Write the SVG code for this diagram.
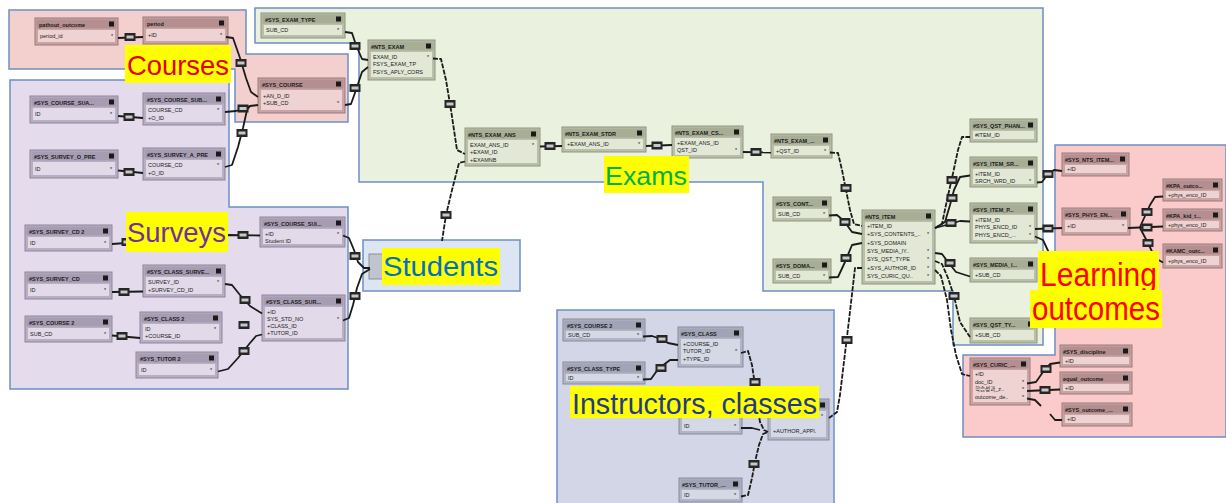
<svg xmlns="http://www.w3.org/2000/svg" xmlns:xlink="http://www.w3.org/1999/xlink" width="1226" height="503" viewBox="0 0 1226 503">
<style>
.rg{stroke:#6f8fc4;stroke-width:1.5}
.n .o{stroke-width:1}
.gr .o{fill:#b9bfa9;stroke:#8f9680}.gr .t{fill:#a7ae95}.gr .b{fill:#e3e8d6}
.pk .o{fill:#c8a4a4;stroke:#9b7a7a}.pk .t{fill:#b58f8f}.pk .b{fill:#efd3d3}
.pu .o{fill:#b8afc4;stroke:#8d859a}.pu .t{fill:#a69db3}.pu .b{fill:#e2dae9}
.bl .o{fill:#b2b5c6;stroke:#878a9c}.bl .t{fill:#a1a4b6}.bl .b{fill:#d5d8e5}
.k{fill:#1a1a1a}
.tt{font-family:'Liberation Sans',sans-serif;font-size:5.5px;font-weight:bold;fill:#1a1a1a}
.r{font-family:'Liberation Sans','Noto Sans CJK KR',sans-serif;font-size:5.5px;fill:#1a1a1a}
.c path{fill:none;stroke:#1b1b1b;stroke-width:1.8;stroke-linejoin:round}
.c path.d{stroke-dasharray:5 1.3}
.hl{fill:#ffff00}
.lb{font-family:'Liberation Sans',sans-serif}
</style>
<defs>
<g id="ri"><rect x="-5.5" y="-4" width="11" height="8" fill="#262626"/><rect x="-3.5" y="-1.5" width="7" height="3" fill="#c8c8c8"/></g>
</defs>
<g id="regions">
<path id="reg-exams" class="rg" fill="#ebf1df" d="M255,8 H1043 V345 H953 V291 H763 V182 H359 V43 H255 Z"/>
<path id="reg-courses" class="rg" fill="#f3d0ce" d="M9,10 H246 V54 H348 V122 H235 V69 H9 Z"/>
<path id="reg-surveys" class="rg" fill="#e4dcec" d="M10,80 H229 V207 H348 V389 H10 Z"/>
<rect id="reg-students" class="rg" fill="#dce6f2" x="363" y="240" width="157" height="51"/>
<path id="reg-lo" class="rg" fill="#fbcaca" d="M1055,145 H1226 V437 H963 V355 H1055 Z"/>
<rect id="reg-instr" class="rg" fill="#d3d6e6" x="557" y="310" width="277" height="200"/>
</g>
<g id="nodes">
<g id="n-pathout" class="n pk"><rect class="o" x="35" y="18" width="83" height="27"/><rect class="t" x="36.5" y="19.5" width="80" height="9"/><rect class="k" x="109" y="21.5" width="5" height="5"/><text class="tt" x="39" y="26.5">pathout_outcome</text><rect class="b" x="38" y="30" width="77" height="12"/><text class="r" x="40" y="38">period_id</text><text class="r" x="111" y="38">*</text></g>
<g id="n-period" class="n pk"><rect class="o" x="143" y="17" width="85" height="27"/><rect class="t" x="144.5" y="18.5" width="82" height="9"/><rect class="k" x="219" y="20.5" width="5" height="5"/><text class="tt" x="147" y="25.5">period</text><rect class="b" x="146" y="29" width="79" height="12"/><text class="r" x="148" y="37">+ID</text><text class="r" x="220" y="37">*</text></g>
<g id="n-syscourse" class="n pk"><rect class="o" x="258" y="78" width="87" height="35"/><rect class="t" x="259.5" y="79.5" width="84" height="9"/><rect class="k" x="336" y="81.5" width="5" height="5"/><text class="tt" x="262" y="86.5">#SYS_COURSE</text><rect class="b" x="261" y="90" width="81" height="20"/><text class="r" x="263" y="97.5">+AN_D_ID</text><text class="r" x="263" y="105">+SUB_CD</text><text class="r" x="337" y="105">*</text></g>

<g id="n-p1" class="n pu"><rect class="o" x="30" y="96" width="88" height="27"/><rect class="t" x="31.5" y="97.5" width="85" height="9"/><rect class="k" x="109" y="99.5" width="5" height="5"/><text class="tt" x="34" y="104.5">#SYS_COURSE_SUA...</text><rect class="b" x="33" y="108" width="82" height="12"/><text class="r" x="35" y="116">ID</text><text class="r" x="110" y="116">*</text></g>
<g id="n-p2" class="n pu"><rect class="o" x="143" y="93" width="82" height="32"/><rect class="t" x="144.5" y="94.5" width="79" height="9"/><rect class="k" x="216" y="96.5" width="5" height="5"/><text class="tt" x="147" y="101.5">#SYS_COURSE_SUB...</text><rect class="b" x="146" y="105" width="76" height="17"/><text class="r" x="148" y="112">COURSE_CD</text><text class="r" x="148" y="119.5">+O_ID</text><text class="r" x="217" y="112">*</text></g>
<g id="n-p3" class="n pu"><rect class="o" x="30" y="150" width="88" height="28"/><rect class="t" x="31.5" y="151.5" width="85" height="9"/><rect class="k" x="109" y="153.5" width="5" height="5"/><text class="tt" x="34" y="158.5">#SYS_SURVEY_O_PRE</text><rect class="b" x="33" y="162" width="82" height="13"/><text class="r" x="35" y="170.5">ID</text><text class="r" x="110" y="170.5">*</text></g>
<g id="n-p4" class="n pu"><rect class="o" x="143" y="148" width="82" height="32"/><rect class="t" x="144.5" y="149.5" width="79" height="9"/><rect class="k" x="216" y="151.5" width="5" height="5"/><text class="tt" x="147" y="156.5">#SYS_SURVEY_A_PRE</text><rect class="b" x="146" y="160" width="76" height="17"/><text class="r" x="148" y="167">COURSE_CD</text><text class="r" x="148" y="174.5">+O_ID</text><text class="r" x="217" y="167">*</text></g>
<g id="n-p5" class="n pu"><rect class="o" x="25" y="225" width="87" height="26"/><rect class="t" x="26.5" y="226.5" width="84" height="9"/><rect class="k" x="103" y="228.5" width="5" height="5"/><text class="tt" x="29" y="233.5">#SYS_SURVEY_CD 2</text><rect class="b" x="28" y="237" width="81" height="11"/><text class="r" x="30" y="244.5">ID</text><text class="r" x="104" y="244.5">*</text></g>
<g id="n-p6" class="n pu"><rect class="o" x="260" y="217" width="85" height="30"/><rect class="t" x="261.5" y="218.5" width="82" height="9"/><rect class="k" x="336" y="220.5" width="5" height="5"/><text class="tt" x="264" y="225.5">#SYS_COURSE_SUI...</text><rect class="b" x="263" y="229" width="79" height="15"/><text class="r" x="265" y="235.5">+ID</text><text class="r" x="265" y="242.5">Student ID</text><text class="r" x="337" y="235.5">*</text></g>
<g id="n-p7" class="n pu"><rect class="o" x="25" y="272" width="87" height="27"/><rect class="t" x="26.5" y="273.5" width="84" height="9"/><rect class="k" x="103" y="275.5" width="5" height="5"/><text class="tt" x="29" y="280.5">#SYS_SURVEY_CD</text><rect class="b" x="28" y="284" width="81" height="12"/><text class="r" x="30" y="292">ID</text><text class="r" x="104" y="292">*</text></g>
<g id="n-p8" class="n pu"><rect class="o" x="143" y="265" width="82" height="32"/><rect class="t" x="144.5" y="266.5" width="79" height="9"/><rect class="k" x="216" y="268.5" width="5" height="5"/><text class="tt" x="147" y="273.5">#SYS_CLASS_SURVE...</text><rect class="b" x="146" y="277" width="76" height="17"/><text class="r" x="148" y="284">SURVEY_ID</text><text class="r" x="148" y="291.5">+SURVEY_CD_ID</text><text class="r" x="217" y="284">*</text></g>
<g id="n-p9" class="n pu"><rect class="o" x="25" y="316" width="87" height="26"/><rect class="t" x="26.5" y="317.5" width="84" height="9"/><rect class="k" x="103" y="319.5" width="5" height="5"/><text class="tt" x="29" y="324.5">#SYS_COURSE 2</text><rect class="b" x="28" y="328" width="81" height="11"/><text class="r" x="30" y="335.5">SUB_CD</text><text class="r" x="104" y="335.5">*</text></g>
<g id="n-p10" class="n pu"><rect class="o" x="140" y="312" width="82" height="31"/><rect class="t" x="141.5" y="313.5" width="79" height="9"/><rect class="k" x="213" y="315.5" width="5" height="5"/><text class="tt" x="144" y="320.5">#SYS_CLASS 2</text><rect class="b" x="143" y="324" width="76" height="16"/><text class="r" x="145" y="331">ID</text><text class="r" x="145" y="338">+COURSE_ID</text><text class="r" x="214" y="331">*</text></g>
<g id="n-p11" class="n pu"><rect class="o" x="262" y="295" width="83" height="46"/><rect class="t" x="263.5" y="296.5" width="80" height="9"/><rect class="k" x="336" y="298.5" width="5" height="5"/><text class="tt" x="266" y="303.5">#SYS_CLASS_SUR...</text><rect class="b" x="265" y="307" width="77" height="31"/><text class="r" x="267" y="313.5">+ID</text><text class="r" x="267" y="320.5">SYS_STD_NO</text><text class="r" x="267" y="327.5">+CLASS_ID</text><text class="r" x="267" y="334.5">+TUTOR_ID</text><text class="r" x="337" y="320.5">*</text></g>
<g id="n-p12" class="n pu"><rect class="o" x="136" y="352" width="82" height="26"/><rect class="t" x="137.5" y="353.5" width="79" height="9"/><rect class="k" x="209" y="355.5" width="5" height="5"/><text class="tt" x="140" y="360.5">#SYS_TUTOR 2</text><rect class="b" x="139" y="364" width="76" height="11"/><text class="r" x="141" y="371.5">ID</text><text class="r" x="210" y="371.5">*</text></g>

<g id="n-g1" class="n gr"><rect class="o" x="261" y="13" width="84" height="25"/><rect class="t" x="262.5" y="14.5" width="81" height="9"/><rect class="k" x="336" y="16.5" width="5" height="5"/><text class="tt" x="265" y="21.5">#SYS_EXAM_TYPE</text><rect class="b" x="264" y="25" width="78" height="10"/><text class="r" x="266" y="32">SUB_CD</text><text class="r" x="337" y="32">*</text></g>
<g id="n-g2" class="n gr"><rect class="o" x="368" y="40" width="67" height="40"/><rect class="t" x="369.5" y="41.5" width="64" height="9"/><rect class="k" x="426" y="43.5" width="5" height="5"/><text class="tt" x="371" y="48.5">#NTS_EXAM</text><rect class="b" x="371" y="52" width="61" height="25"/><text class="r" x="373" y="58.5">EXAM_ID</text><text class="r" x="373" y="66">FSYS_EXAM_TP</text><text class="r" x="373" y="73.5">FSYS_APLY_CORS</text><text class="r" x="427" y="58.5">*</text></g>
<g id="n-g3" class="n gr"><rect class="o" x="465" y="128" width="75" height="38"/><rect class="t" x="466.5" y="129.5" width="72" height="9"/><rect class="k" x="531" y="131.5" width="5" height="5"/><text class="tt" x="468" y="136.5">#NTS_EXAM_ANS</text><rect class="b" x="468" y="140" width="69" height="23"/><text class="r" x="470" y="146.5">EXAM_ANS_ID</text><text class="r" x="470" y="154">+EXAM_ID</text><text class="r" x="470" y="161.5">+EXAMNB</text><text class="r" x="532" y="146.5">*</text></g>
<g id="n-g4" class="n gr"><rect class="o" x="562" y="127" width="84" height="25"/><rect class="t" x="563.5" y="128.5" width="81" height="9"/><rect class="k" x="637" y="130.5" width="5" height="5"/><text class="tt" x="565" y="135.5">#NTS_EXAM_STDR</text><rect class="b" x="565" y="139" width="78" height="10"/><text class="r" x="567" y="146">+EXAM_ANS_ID</text><text class="r" x="638" y="146">*</text></g>
<g id="n-g5" class="n gr"><rect class="o" x="672" y="126" width="71" height="32"/><rect class="t" x="673.5" y="127.5" width="68" height="9"/><rect class="k" x="734" y="129.5" width="5" height="5"/><text class="tt" x="675" y="134.5">#NTS_EXAM_CS...</text><rect class="b" x="675" y="138" width="65" height="17"/><text class="r" x="677" y="144.5">+EXAM_ANS_ID</text><text class="r" x="677" y="152">QST_ID</text><text class="r" x="735" y="152">*</text></g>
<g id="n-g6" class="n gr"><rect class="o" x="771" y="134" width="61" height="24"/><rect class="t" x="772.5" y="135.5" width="58" height="9"/><rect class="k" x="823" y="137.5" width="5" height="5"/><text class="tt" x="774" y="142.5">#NTS_EXAM_...</text><rect class="b" x="774" y="146" width="55" height="9"/><text class="r" x="776" y="152.5">+QST_ID</text><text class="r" x="824" y="152.5">*</text></g>
<g id="n-g7" class="n gr"><rect class="o" x="773" y="197" width="58" height="24"/><rect class="t" x="774.5" y="198.5" width="55" height="9"/><rect class="k" x="822" y="200.5" width="5" height="5"/><text class="tt" x="776" y="205.5">#SYS_CONT...</text><rect class="b" x="776" y="209" width="52" height="9"/><text class="r" x="778" y="215.5">SUB_CD</text><text class="r" x="823" y="215.5">*</text></g>
<g id="n-g8" class="n gr"><rect class="o" x="773" y="259" width="58" height="24"/><rect class="t" x="774.5" y="260.5" width="55" height="9"/><rect class="k" x="822" y="262.5" width="5" height="5"/><text class="tt" x="776" y="267.5">#SYS_DOMA...</text><rect class="b" x="776" y="271" width="52" height="9"/><text class="r" x="778" y="277.5">SUB_CD</text><text class="r" x="823" y="277.5">*</text></g>
<g id="n-g9" class="n gr"><rect class="o" x="862" y="210" width="73" height="74"/><rect class="t" x="863.5" y="211.5" width="70" height="9"/><rect class="k" x="926" y="213.5" width="5" height="5"/><text class="tt" x="865" y="218.5">#NTS_ITEM</text><rect class="b" x="865" y="222" width="67" height="59"/><text class="r" x="867" y="228">+ITEM_ID</text><text class="r" x="867" y="236.3">+SYS_CONTENTS_..</text><text class="r" x="867" y="244.6">+SYS_DOMAIN</text><text class="r" x="867" y="252.9">SYS_MEDIA_IY..</text><text class="r" x="867" y="261.2">SYS_QST_TYPE</text><text class="r" x="867" y="269.5">+SYS_AUTHOR_ID</text><text class="r" x="867" y="277.8">SYS_CURIC_QU..</text><text class="r" x="927" y="236.3">*</text><text class="r" x="927" y="252.9">*</text><text class="r" x="927" y="261.2">*</text><text class="r" x="927" y="269.5">*</text><text class="r" x="927" y="277.8">*</text></g>
<g id="n-g10" class="n gr"><rect class="o" x="970" y="119" width="67" height="23"/><rect class="t" x="971.5" y="120.5" width="64" height="9"/><rect class="k" x="1028" y="122.5" width="5" height="5"/><text class="tt" x="973" y="127.5">#SYS_QST_PHAN...</text><rect class="b" x="973" y="131" width="61" height="8"/><text class="r" x="975" y="137">#ITEM_ID</text></g>
<g id="n-g11" class="n gr"><rect class="o" x="970" y="157" width="67" height="30"/><rect class="t" x="971.5" y="158.5" width="64" height="9"/><rect class="k" x="1028" y="160.5" width="5" height="5"/><text class="tt" x="973" y="165.5">#SYS_ITEM_SR...</text><rect class="b" x="973" y="169" width="61" height="15"/><text class="r" x="975" y="175.5">+ITEM_ID</text><text class="r" x="975" y="182.5">SRCH_WRD_ID</text><text class="r" x="1029" y="182.5">*</text></g>
<g id="n-g12" class="n gr"><rect class="o" x="970" y="203" width="67" height="40"/><rect class="t" x="971.5" y="204.5" width="64" height="9"/><rect class="k" x="1028" y="206.5" width="5" height="5"/><text class="tt" x="973" y="211.5">#SYS_ITEM_P...</text><rect class="b" x="973" y="215" width="61" height="25"/><text class="r" x="975" y="221.5">+ITEM_ID</text><text class="r" x="975" y="229">PHYS_ENCD_ID</text><text class="r" x="975" y="236.5">PHYS_ENCD_...</text><text class="r" x="1029" y="229">*</text><text class="r" x="1029" y="236.5">*</text></g>
<g id="n-g13" class="n gr"><rect class="o" x="970" y="258" width="67" height="24"/><rect class="t" x="971.5" y="259.5" width="64" height="9"/><rect class="k" x="1028" y="261.5" width="5" height="5"/><text class="tt" x="973" y="266.5">#SYS_MEDIA_I...</text><rect class="b" x="973" y="270" width="61" height="9"/><text class="r" x="975" y="276.5">+SUB_CD</text></g>
<g id="n-g14" class="n gr"><rect class="o" x="970" y="318" width="67" height="25"/><rect class="t" x="971.5" y="319.5" width="64" height="9"/><rect class="k" x="1028" y="321.5" width="5" height="5"/><text class="tt" x="973" y="326.5">#SYS_QST_TY...</text><rect class="b" x="973" y="330" width="61" height="10"/><text class="r" x="975" y="337">+SUB_CD</text></g>

<g id="n-l1" class="n pk"><rect class="o" x="1062" y="153" width="67" height="23"/><rect class="t" x="1063.5" y="154.5" width="64" height="9"/><rect class="k" x="1120" y="156.5" width="5" height="5"/><text class="tt" x="1065" y="161.5">#SYS_NTS_ITEM...</text><rect class="b" x="1065" y="165" width="61" height="8"/><text class="r" x="1067" y="171">+ID</text></g>
<g id="n-l2" class="n pk"><rect class="o" x="1062" y="208" width="68" height="27"/><rect class="t" x="1063.5" y="209.5" width="65" height="9"/><rect class="k" x="1121" y="211.5" width="5" height="5"/><text class="tt" x="1065" y="216.5">#SYS_PHYS_EN...</text><rect class="b" x="1065" y="220" width="62" height="12"/><text class="r" x="1067" y="228">+ID</text><text class="r" x="1122" y="228">*</text></g>
<g id="n-l3" class="n pk"><rect class="o" x="1163" y="179" width="59" height="22"/><rect class="t" x="1164.5" y="180.5" width="56" height="9"/><rect class="k" x="1213" y="182.5" width="5" height="5"/><text class="tt" x="1166" y="187.5">#KPA_outco...</text><rect class="b" x="1166" y="191" width="53" height="7"/><text class="r" x="1168" y="196.5">+phys_enco_ID</text></g>
<g id="n-l4" class="n pk"><rect class="o" x="1163" y="209" width="59" height="22"/><rect class="t" x="1164.5" y="210.5" width="56" height="9"/><rect class="k" x="1213" y="212.5" width="5" height="5"/><text class="tt" x="1166" y="217.5">#KPA_kid_t...</text><rect class="b" x="1166" y="221" width="53" height="7"/><text class="r" x="1168" y="226.5">+phys_enco_ID</text></g>
<g id="n-l5" class="n pk"><rect class="o" x="1163" y="244" width="59" height="24"/><rect class="t" x="1164.5" y="245.5" width="56" height="9"/><rect class="k" x="1213" y="247.5" width="5" height="5"/><text class="tt" x="1166" y="252.5">#KAMC_outc...</text><rect class="b" x="1166" y="256" width="53" height="9"/><text class="r" x="1168" y="262.5">+phys_enco_ID</text></g>
<g id="n-l6" class="n pk"><rect class="o" x="970" y="358" width="60" height="47"/><rect class="t" x="971.5" y="359.5" width="57" height="9"/><rect class="k" x="1021" y="361.5" width="5" height="5"/><text class="tt" x="973" y="366.5">#SYS_CURIC_...</text><rect class="b" x="973" y="370" width="54" height="32"/><text class="r" x="975" y="376">+ID</text><text class="r" x="975" y="383.5">doc_ID</text><text class="r" x="975" y="391">학습성과_z..</text><text class="r" x="975" y="398.5">outcome_de..</text><text class="r" x="1022" y="383.5">*</text><text class="r" x="1022" y="391">*</text><text class="r" x="1022" y="398.5">*</text></g>
<g id="n-l7" class="n pk"><rect class="o" x="1060" y="345" width="72" height="22"/><rect class="t" x="1061.5" y="346.5" width="69" height="9"/><rect class="k" x="1123" y="348.5" width="5" height="5"/><text class="tt" x="1063" y="353.5">#SYS_discipline</text><rect class="b" x="1063" y="357" width="66" height="7"/><text class="r" x="1065" y="362.5">+ID</text></g>
<g id="n-l8" class="n pk"><rect class="o" x="1060" y="372" width="72" height="22"/><rect class="t" x="1061.5" y="373.5" width="69" height="9"/><rect class="k" x="1123" y="375.5" width="5" height="5"/><text class="tt" x="1063" y="380.5">equal_outcome</text><rect class="b" x="1063" y="384" width="66" height="7"/><text class="r" x="1065" y="389.5">+ID</text></g>
<g id="n-l9" class="n pk"><rect class="o" x="1062" y="403" width="70" height="23"/><rect class="t" x="1063.5" y="404.5" width="67" height="9"/><rect class="k" x="1123" y="406.5" width="5" height="5"/><text class="tt" x="1065" y="411.5">#SYS_outcome_...</text><rect class="b" x="1065" y="415" width="64" height="8"/><text class="r" x="1067" y="421">+ID</text></g>

<g id="n-i1" class="n bl"><rect class="o" x="563" y="319" width="82" height="22"/><rect class="t" x="564.5" y="320.5" width="79" height="9"/><rect class="k" x="636" y="322.5" width="5" height="5"/><text class="tt" x="567" y="327.5">#SYS_COURSE 2</text><rect class="b" x="566" y="331" width="76" height="7"/><text class="r" x="568" y="336.5">SUB_CD</text><text class="r" x="637" y="336.5">*</text></g>
<g id="n-i2" class="n bl"><rect class="o" x="678" y="327" width="65" height="40"/><rect class="t" x="679.5" y="328.5" width="62" height="9"/><rect class="k" x="734" y="330.5" width="5" height="5"/><text class="tt" x="681" y="335.5">#SYS_CLASS</text><rect class="b" x="681" y="339" width="59" height="25"/><text class="r" x="683" y="345.5">+COURSE_ID</text><text class="r" x="683" y="353">TUTOR_ID</text><text class="r" x="683" y="360.5">+TYPE_ID</text><text class="r" x="735" y="353">*</text></g>
<g id="n-i3" class="n bl"><rect class="o" x="563" y="362" width="82" height="22"/><rect class="t" x="564.5" y="363.5" width="79" height="9"/><rect class="k" x="636" y="365.5" width="5" height="5"/><text class="tt" x="567" y="370.5">#SYS_CLASS_TYPE</text><rect class="b" x="566" y="374" width="76" height="7"/><text class="r" x="568" y="379.5">ID</text><text class="r" x="637" y="379.5">*</text></g>
<g id="n-i4" class="n bl"><rect class="o" x="679" y="396" width="63" height="38"/><rect class="t" x="680.5" y="397.5" width="60" height="9"/><rect class="k" x="733" y="399.5" width="5" height="5"/><rect class="b" x="682" y="409" width="57" height="22"/><text class="r" x="684" y="428">ID</text><text class="r" x="734" y="428">*</text></g>
<g id="n-i5" class="n bl"><rect class="o" x="768" y="399" width="61" height="41"/><rect class="t" x="769.5" y="400.5" width="58" height="9"/><rect class="k" x="820" y="402.5" width="5" height="5"/><rect class="b" x="771" y="411" width="55" height="26"/><text class="r" x="821" y="418">*</text><text class="r" x="773" y="433">+AUTHOR_APPl.</text></g>
<g id="n-i6" class="n bl"><rect class="o" x="679" y="478" width="63" height="24"/><rect class="t" x="680.5" y="479.5" width="60" height="9"/><rect class="k" x="733" y="481.5" width="5" height="5"/><text class="tt" x="682" y="486.5">#SYS_TUTOR_...</text><rect class="b" x="682" y="490" width="57" height="9"/><text class="r" x="684" y="496.5">ID</text><text class="r" x="734" y="496.5">*</text></g>

<g id="n-student-icon"><rect x="369" y="254" width="14" height="25" fill="#c0c4cc" stroke="#8a8f99"/></g>
</g>
<g id="connectors" class="c">
<path d="M118,38 L143,37"/>
<path d="M226,37 L233,38 L240,58 L246,78 L251,92 L258,97"/>
<path d="M225,112 L236,111 L250,106 L258,105"/>
<path d="M118,116 L143,118"/>
<path d="M225,167 L232,165 L238,147 L243,128 L247,110 L250,106"/>
<path d="M118,170.5 L143,173"/>
<path d="M112,244 L126,243 L228,235 L260,235.5"/>
<path d="M343,235.5 L349,238 L354,250 L358,262 L364,268 L370,268"/>
<path d="M343,320.5 L349,318 L353,305 L357,288 L362,274 L370,269"/>
<path d="M112,292 L143,291.5"/>
<path d="M225,284 L232,285 L240,295 L250,306 L262,313.5"/>
<path d="M112,335.5 L140,338"/>
<path d="M218,371.5 L228,369 L238,358 L250,343 L256,336 L262,334.5"/>
<path d="M345,32 L352,33 L356,45 L362,59 L368,60"/>
<path d="M345,105 L351,104 L356,90 L362,72 L368,67"/>
<path class="d" d="M433,58.5 L441,59 L446,80 L451,110 L457,150 L465,154"/>
<path class="d" d="M465,161.5 L459,163 L452,190 L446,215 L442,241"/>
<path d="M540,146.5 L562,146"/>
<path d="M646,146 L672,145"/>
<path d="M743,152 L771,152.5"/>
<path class="d" d="M830,152.5 L838,153 L842,170 L846,190 L850,210 L854,224 L862,226"/>
<path d="M829,215.5 L837,215 L844,221 L852,232 L862,234"/>
<path d="M829,277.5 L838,277 L845,262 L852,245 L862,243"/>
<path class="d" d="M862,268 L855,268 L849,320 L846,345 L840,395 L837,412 L829,418"/>
<path class="d" d="M935,228 L942,224 L947,200 L952,178 L958,150 L962,137 L970,137"/>
<path d="M935,228 L945,222 L950,205 L954,190 L960,177 L970,175.5"/>
<path d="M935,228 L950,224 L960,221 L970,221.5"/>
<path d="M935,253 L942,254 L948,262 L956,272 L970,276.5"/>
<path class="d" d="M935,261 L942,264 L948,278 L954,296 L960,322 L970,337"/>
<path class="d" d="M935,270 L941,276 L947,300 L951,330 L956,355 L962,374 L970,376"/>
<path d="M1037,182.5 L1042,182 L1048,174 L1054,170 L1062,171"/>
<path d="M1035,229 L1062,228"/>
<path d="M1035,236.5 L1043,240 L1050,255"/>
<path d="M1128,228 L1163,226.5"/>
<path d="M1140,227 L1150,205 L1155,197 L1163,196.5"/>
<path d="M1140,228 L1148,243 L1155,258 L1163,262.5"/>
<path d="M1027,383.5 L1036,382 L1043,372 L1050,364 L1060,362.5"/>
<path d="M1027,391 L1060,389.5"/>
<path d="M1027,398.5 L1035,400 L1041,406"/>
<path d="M1050,414 L1055,420 L1062,420"/>
<path d="M643,336.5 L652,336 L658,338 L668,343 L678,345"/>
<path d="M643,379.5 L651,379 L656,372 L662,366 L670,360 L678,360"/>
<path class="d" d="M741,353 L748,351 L752,365 L755,385 L757,405 L760,422 L764,430 L768,432"/>
<path class="d" d="M741,496.5 L748,495 L752,478 L755,462 L759,445 L763,434 L768,432"/>
<path d="M741,428 L752,428 L760,430"/>
<use xlink:href="#ri" x="130" y="37"/>
<use xlink:href="#ri" x="241" y="63"/>
<use xlink:href="#ri" x="243" y="108.5"/>
<use xlink:href="#ri" x="129" y="117"/>
<use xlink:href="#ri" x="242" y="133"/>
<use xlink:href="#ri" x="129" y="172"/>
<use xlink:href="#ri" x="127" y="242"/>
<use xlink:href="#ri" x="243" y="235"/>
<use xlink:href="#ri" x="355" y="256"/>
<use xlink:href="#ri" x="355" y="296"/>
<use xlink:href="#ri" x="124" y="292"/>
<use xlink:href="#ri" x="245" y="300"/>
<use xlink:href="#ri" x="122" y="336"/>
<use xlink:href="#ri" x="244" y="325"/>
<use xlink:href="#ri" x="244" y="351"/>
<use xlink:href="#ri" x="355" y="46"/>
<use xlink:href="#ri" x="355" y="88"/>
<use xlink:href="#ri" x="450" y="104"/>
<use xlink:href="#ri" x="446" y="215"/>
<use xlink:href="#ri" x="550" y="146"/>
<use xlink:href="#ri" x="657" y="145.5"/>
<use xlink:href="#ri" x="756" y="152"/>
<use xlink:href="#ri" x="846" y="188"/>
<use xlink:href="#ri" x="845" y="222"/>
<use xlink:href="#ri" x="846" y="258"/>
<use xlink:href="#ri" x="847" y="340"/>
<use xlink:href="#ri" x="952" y="180"/>
<use xlink:href="#ri" x="952" y="198"/>
<use xlink:href="#ri" x="951" y="223"/>
<use xlink:href="#ri" x="950" y="263"/>
<use xlink:href="#ri" x="954" y="296"/>
<use xlink:href="#ri" x="1048" y="174"/>
<use xlink:href="#ri" x="1048" y="228.5"/>
<use xlink:href="#ri" x="1147" y="227.5"/>
<use xlink:href="#ri" x="1147" y="212"/>
<use xlink:href="#ri" x="1148" y="243"/>
<use xlink:href="#ri" x="1046" y="369"/>
<use xlink:href="#ri" x="1045" y="390"/>
<use xlink:href="#ri" x="662" y="339"/>
<use xlink:href="#ri" x="661" y="368"/>
<use xlink:href="#ri" x="755" y="382"/>
<use xlink:href="#ri" x="754" y="464"/>
</g>
<g id="labels" class="lb">
<rect class="hl" x="125" y="45" width="106" height="38"/>
<text x="127" y="75" font-size="28" fill="#e30000" textLength="102" lengthAdjust="spacingAndGlyphs">Courses</text>
<rect class="hl" x="126" y="212" width="102" height="40"/>
<text x="127" y="242" font-size="28" fill="#7030a0" textLength="99" lengthAdjust="spacingAndGlyphs">Surveys</text>
<rect class="hl" x="382" y="248" width="118" height="37"/>
<text x="383" y="276" font-size="27" fill="#0070c0" textLength="115" lengthAdjust="spacingAndGlyphs">Students</text>
<rect class="hl" x="604" y="156" width="85" height="37"/>
<text x="605" y="185" font-size="26" fill="#00b050" textLength="82" lengthAdjust="spacingAndGlyphs">Exams</text>
<rect class="hl" x="1038" y="251" width="121" height="40"/>
<text x="1040" y="286" font-size="33" fill="#ff0000" textLength="117" lengthAdjust="spacingAndGlyphs">Learning</text>
<rect class="hl" x="1030" y="290" width="132" height="38"/>
<text x="1032" y="320" font-size="33" fill="#ff0000" textLength="128" lengthAdjust="spacingAndGlyphs">outcomes</text>
<rect class="hl" x="570" y="386" width="249" height="32"/>
<text x="572" y="414" font-size="29" fill="#1f3a8a" textLength="245" lengthAdjust="spacingAndGlyphs">Instructors, classes</text>
</g>
</svg>
